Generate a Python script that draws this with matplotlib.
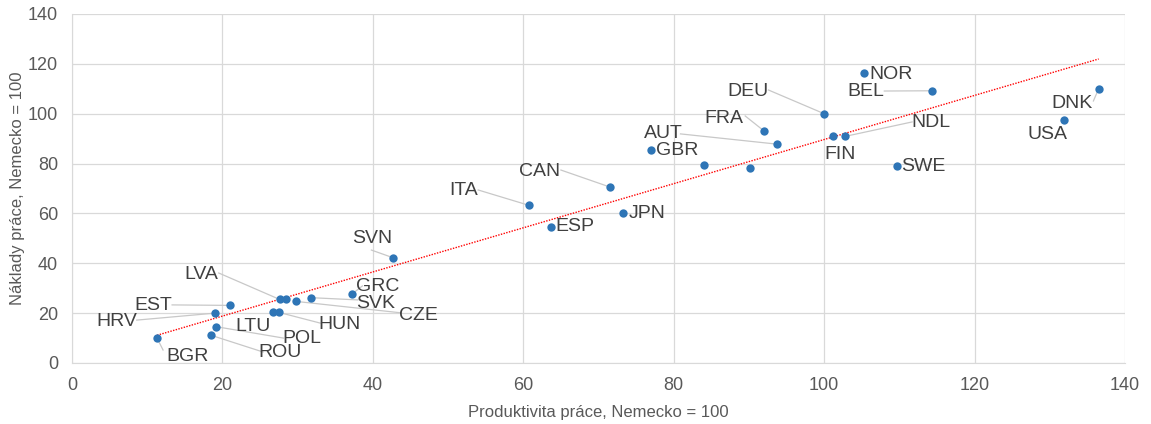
import matplotlib.pyplot as plt
import numpy as np

# ── data ──────────────────────────────────────────────────────────────────────
countries = ["BGR", "ROU", "POL", "HRV", "EST", "LTU", "HUN", "LVA", "", "CZE",
             "SVK", "GRC", "SVN", "ITA", "ESP", "CAN", "JPN", "GBR", "", "",
             "FRA", "AUT", "DEU", "NOR", "BEL", "FIN", "NDL", "SWE", "USA", "DNK"]
productivity = [11.3, 18.5, 19.1, 19.0, 21.0, 26.7, 27.5, 27.6, 28.4, 29.8,
                31.8, 37.2, 42.7, 60.8, 63.7, 71.5, 73.2, 77.0, 84.0, 90.1,
                92.0, 93.7, 100.0, 105.3, 114.3, 101.2, 102.8, 109.7, 131.9, 136.5]
labour_cost = [10.0, 11.1, 14.6, 20.0, 23.1, 20.3, 20.3, 25.5, 25.7, 24.7,
               26.2, 27.6, 42.2, 63.2, 54.7, 70.6, 60.2, 85.6, 79.4, 78.3,
               93.1, 87.8, 100.0, 116.2, 109.2, 91.1, 90.9, 79.1, 97.5, 110.0]

# ── label layout: text centre, optional leader end (data units) ───────────────
LABEL_POS = {
    "BGR": ((15.3, 2.8), (12.1, 5.2)),
    "ROU": ((27.7, 4.1), (25.4, 4.4)),
    "POL": ((30.5, 9.9), (28.1, 10.0)),
    "LTU": ((24.1, 14.6), None),
    "HRV": ((5.9, 16.6), (8.6, 17.2)),
    "EST": ((10.8, 22.9), (13.3, 23.3)),
    "LVA": ((17.2, 35.3), (19.5, 36.1)),
    "HUN": ((35.6, 15.6), (33.0, 16.0)),
    "SVK": ((40.4, 23.9), (38.0, 25.3)),
    "CZE": ((46.1, 19.0), (43.8, 20.1)),
    "GRC": ((40.7, 30.6), (38.6, 30.9)),
    "SVN": ((39.9, 50.0), (39.8, 45.3)),
    "ITA": ((52.0, 69.1), (54.0, 69.4)),
    "ESP": ((66.9, 54.6), None),
    "CAN": ((62.2, 77.0), (65.0, 77.4)),
    "JPN": ((76.4, 59.8), None),
    "GBR": ((80.4, 85.2), None),
    "AUT": ((78.6, 91.9), (80.9, 91.9)),
    "FRA": ((86.7, 98.2), (89.5, 99.1)),
    "DEU": ((89.9, 108.8), (92.6, 109.5)),
    "NOR": ((108.9, 115.9), None),
    "BEL": ((105.5, 108.8), (108.0, 109.1)),
    "FIN": ((102.1, 83.8), None),
    "NDL": ((114.2, 96.4), (111.7, 96.7)),
    "SWE": ((113.2, 78.7), None),
    "USA": ((129.7, 91.5), None),
    "DNK": ((133.0, 104.2), (135.8, 105.1)),
}

C_DOT = "#2E75B6"
C_GRID = "#D9D9D9"
C_TEXT = "#595959"
C_LEAD = "#C8C8C8"

plt.rcParams["font.family"] = ["Liberation Sans Narrow", "Liberation Sans", "DejaVu Sans"]

fig = plt.figure(figsize=(11.51, 4.24), dpi=100)
ax = fig.add_axes([0.0626, 0.1439, 0.9148, 0.8231])

x = np.array(productivity)
y = np.array(labour_cost)

# linear trend
k, q = np.polyfit(x, y, 1)
xt = np.array([x.min(), x.max()])
ax.plot(xt, k * xt + q, color="#FF0000", lw=1.0, ls=(0, (1, 1)), zorder=2)

ax.scatter(x, y, s=36, color=C_DOT, zorder=4, linewidths=0)

for name, px, py in zip(countries, productivity, labour_cost):
    if not name:
        continue
    (tx, ty), lead = LABEL_POS[name]
    ax.text(tx, ty, name, ha="center", va="center", fontsize=14,
            color="#404040", zorder=5)
    if lead is not None:
        ax.plot([px, lead[0]], [py, lead[1]], color=C_LEAD, lw=0.9, zorder=3)

ax.set_xlim(0, 140)
ax.set_ylim(0, 140)
ax.set_xticks(range(0, 141, 20))
ax.set_yticks(range(0, 141, 20))
ax.grid(True, color=C_GRID, lw=0.9)
ax.set_axisbelow(True)
for side in ["top", "right"]:
    ax.spines[side].set_visible(False)
for side in ["left", "bottom"]:
    ax.spines[side].set_color(C_GRID)
ax.tick_params(length=0, labelsize=13, colors=C_TEXT, pad=10)

ax.set_xlabel("Produktivita práce, Nemecko = 100", fontsize=12, color=C_TEXT, labelpad=8)
ax.set_ylabel("Náklady práce, Nemecko = 100", fontsize=12, color=C_TEXT, labelpad=2)

fig.savefig("out.png", dpi=100)
